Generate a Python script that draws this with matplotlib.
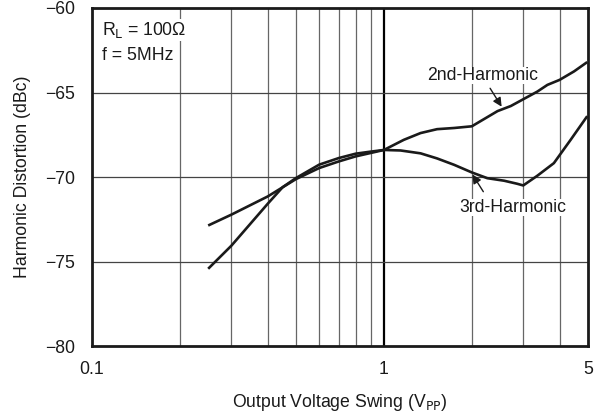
import matplotlib
matplotlib.use("Agg")
import matplotlib.pyplot as plt
from matplotlib.ticker import FixedLocator, NullFormatter, NullLocator

plt.rcParams['font.family'] = ['Liberation Sans', 'DejaVu Sans']

# 2nd harmonic (VPP, dBc)
x2 = [0.25, 0.3, 0.4, 0.5, 0.6, 0.7, 0.8, 0.9, 1.0, 1.17, 1.335, 1.52, 1.74, 2.0,
      2.14, 2.45, 2.72, 3.0, 3.35, 3.63, 4.0, 4.48, 4.97]
y2 = [-72.87, -72.23, -71.15, -70.12, -69.47, -69.08, -68.78, -68.58, -68.4, -67.8,
      -67.4, -67.17, -67.1, -67.0, -66.7, -66.1, -65.8, -65.4, -64.95, -64.55,
      -64.25, -63.75, -63.2]

# 3rd harmonic (VPP, dBc)
x3 = [0.25, 0.3, 0.4, 0.45, 0.5, 0.6, 0.7, 0.8, 0.9, 1.0, 1.14, 1.335, 1.52, 1.74,
      2.0, 2.26, 2.58, 2.86, 3.0, 3.35, 3.82, 4.36, 4.97]
y3 = [-75.43, -74.07, -71.58, -70.6, -70.06, -69.27, -68.88, -68.62, -68.5, -68.4,
      -68.43, -68.6, -68.9, -69.28, -69.73, -70.07, -70.22, -70.4, -70.5, -69.93,
      -69.18, -67.8, -66.4]

xtick_vals = [0.1, 1, 5]
xtick_labels = ["0.1", "1", "5"]
xgrid_vals = [0.2, 0.3, 0.4, 0.5, 0.6, 0.7, 0.8, 0.9, 2, 3, 4]
ytick_vals = [-80, -75, -70, -65, -60]
ytick_labels = ["\u221280", "\u221275", "\u221270", "\u221265", "\u221260"]

FS = 12.7
INK = '#1a1a1a'

fig = plt.figure(figsize=(6.09, 4.15), dpi=100)
ax = fig.add_axes([92/609, 1-346/415, (588-92)/609, (346-8)/415])
ax.set_xscale('log')
ax.set_xlim(0.1, 5)
ax.set_ylim(-80, -60)

# grid
for gx in xgrid_vals:
    ax.axvline(gx, color='#666666', lw=0.9, zorder=1)
ax.axvline(1, color='black', lw=1.6, zorder=1)
for gy in [-75, -70, -65]:
    ax.axhline(gy, color='#444444', lw=0.9, zorder=1)

ax.plot(x2, y2, color=INK, lw=1.9, zorder=3, solid_capstyle='butt')
ax.plot(x3, y3, color=INK, lw=1.9, zorder=3, solid_capstyle='butt')

ax.xaxis.set_major_locator(FixedLocator(xtick_vals))
ax.set_xticklabels(xtick_labels)
ax.xaxis.set_minor_locator(NullLocator())
ax.xaxis.set_minor_formatter(NullFormatter())
ax.set_yticks(ytick_vals)
ax.set_yticklabels(ytick_labels)
ax.tick_params(length=0, labelsize=FS, colors=INK)
ax.tick_params(axis='x', pad=11)
ax.tick_params(axis='y', pad=12)
for s in ax.spines.values():
    s.set_linewidth(2.0)
    s.set_color(INK)
    s.set_zorder(5)

ax.set_xlabel("Output Voltage Swing (V$_{\\mathrm{PP}}$)", fontsize=FS, labelpad=10, color=INK)
ax.set_ylabel("Harmonic Distortion (dBc)", fontsize=FS, labelpad=10, color=INK)

wb = dict(facecolor='white', edgecolor='none', pad=1.0)
ax.text(0.108, -61.6, "R$_{\\mathrm{L}}$ = 100\u03a9", fontsize=FS, va='baseline', ha='left',
        color=INK, zorder=4, bbox=wb)
ax.text(0.108, -63.08, "f = 5MHz", fontsize=FS, va='baseline', ha='left',
        color=INK, zorder=4, bbox=wb)

ax.text(2.18, -64.26, "2nd-Harmonic", fontsize=FS, va='baseline', ha='center',
        color=INK, zorder=4, bbox=dict(facecolor='white', edgecolor='none', pad=0.3))
ax.text(2.76, -72.07, "3rd-Harmonic", fontsize=FS, va='baseline', ha='center',
        color=INK, zorder=4, bbox=dict(facecolor='white', edgecolor='none', pad=0.3))

arrow = dict(arrowstyle='-|>', color=INK, lw=1.0, shrinkA=0, shrinkB=0, mutation_scale=13)
ax.annotate("", xy=(2.53, -65.84), xytext=(2.31, -64.75), arrowprops=arrow, zorder=4)
ax.annotate("", xy=(2.01, -69.85), xytext=(2.19, -70.87), arrowprops=arrow, zorder=4)

fig.savefig("out.png", dpi=100)
